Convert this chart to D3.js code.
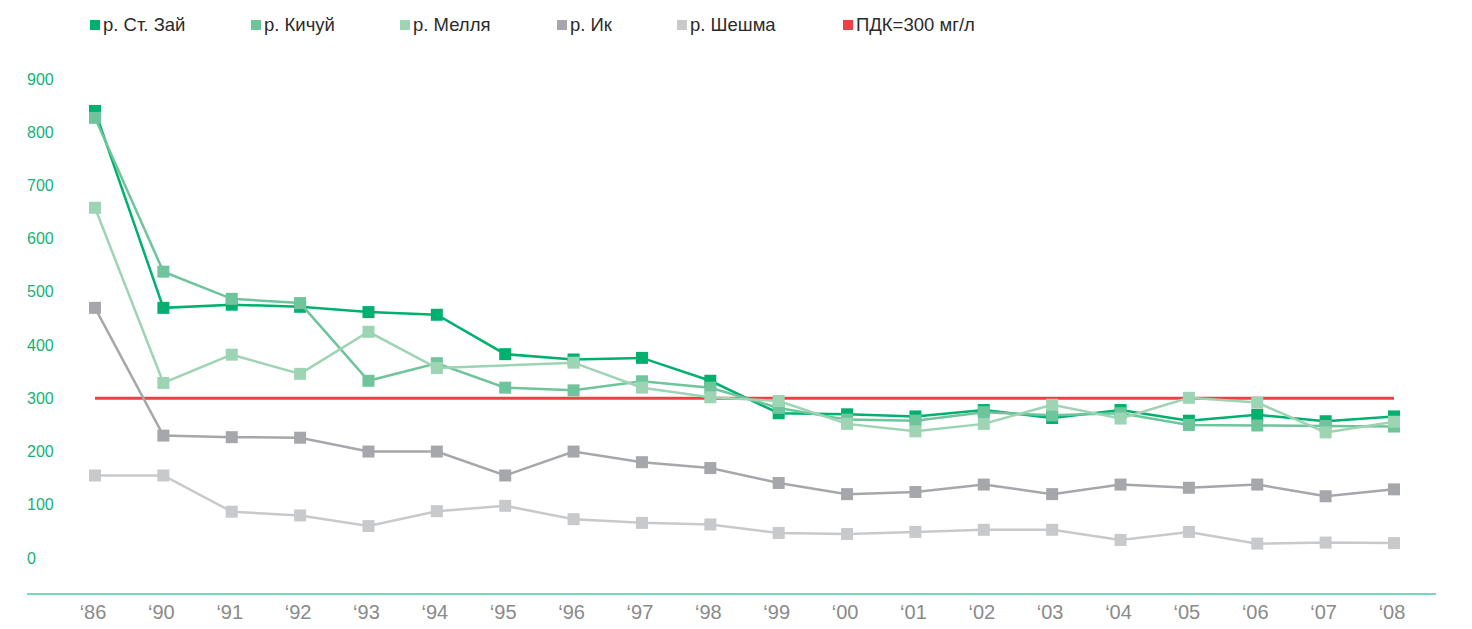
<!DOCTYPE html>
<html>
<head>
<meta charset="utf-8">
<script src="https://cdn.jsdelivr.net/npm/d3@7"></script>
<style>
  body { margin: 0; background: #fff; }
  svg { display: block; font-family: "Liberation Sans", Arial, sans-serif; }
</style>
</head>
<body>
<script>
// years on the x axis
var years = ["‘86", "‘90", "‘91", "‘92", "‘93", "‘94", "‘95", "‘96", "‘97", "‘98",
             "‘99", "‘00", "‘01", "‘02", "‘03", "‘04", "‘05", "‘06", "‘07", "‘08"];

var yTicks = [0, 100, 200, 300, 400, 500, 600, 700, 800, 900];

// mg/l per river
var stZai   = [840, 470, 476, 472, 462, 457, 383, 373, 376, 333, 272, 270, 266, 278, 263, 278, 258, 269, 257, 266];
var kichuy  = [827, 538, 487, 479, 333, 366, 320, 315, 332, 320, 282, 260, 258, 274, 268, 272, 250, 249, 248, 247];
var mellya  = [658, 329, 382, 346, 425, 357, null, 367, 320, 302, 295, 252, 238, 252, 288, 262, 301, 292, 236, 256];
var ik      = [470, 230, 227, 226, 200, 200, 155, 200, 180, 169, 141, 120, 124, 138, 120, 138, 132, 138, 116, 129];
var sheshma = [155, 155, 87, 80, 60, 88, 98, 73, 66, 63, 47, 45, 49, 53, 53, 34, 49, 27, 29, 28];

var limit = 300;

var seriesNames  = ["р. Ст. Зай", "р. Кичуй", "р. Мелля", "р. Ик", "р. Шешма"];
var seriesValues = [stZai, kichuy, mellya, ik, sheshma];
var seriesColors = ["#00b06f", "#6ec49b", "#9dd4b4", "#a6a7ab", "#c8c9cb"];
var limitName = "ПДК=300 мг/л";
var limitColor = "#ec4045";

var W = 1472, H = 629;

var svg = d3.select("body").append("svg")
    .attr("width", W)
    .attr("height", H);

var x = d3.scalePoint()
    .domain(years)
    .range([95, 1394]);

var y = d3.scaleLinear()
    .domain([0, 900])
    .range([558, 79]);

// y labels (no axis line)
svg.append("g").selectAll("text")
    .data(yTicks)
    .enter().append("text")
    .attr("x", 27)
    .attr("y", function(d) { return y(d); })
    .attr("dy", "0.35em")
    .attr("font-size", "16px")
    .attr("fill", "#14b277")
    .text(function(d) { return d; });

// bottom axis line
svg.append("line")
    .attr("x1", 27).attr("x2", 1436)
    .attr("y1", 594).attr("y2", 594)
    .attr("stroke", "#45cf9f")
    .attr("stroke-width", 1.5);

// x labels
svg.append("g").selectAll("text")
    .data(years)
    .enter().append("text")
    .attr("x", function(d) { return x(d) - 2; })
    .attr("y", 619)
    .attr("text-anchor", "middle")
    .attr("font-size", "20px")
    .attr("fill", "#8a8a8a")
    .text(function(d) { return d; });

// limit line
svg.append("line")
    .attr("x1", x(years[0])).attr("x2", x(years[years.length - 1]))
    .attr("y1", y(limit)).attr("y2", y(limit))
    .attr("stroke", limitColor)
    .attr("stroke-width", 3);

var line = d3.line()
    .x(function(d) { return x(d.year); })
    .y(function(d) { return y(d.value); });

seriesValues.forEach(function(vals, i) {
    var pts = years.map(function(yr, j) { return { year: yr, value: vals[j] }; })
        .filter(function(d) { return d.value != null; });

    svg.append("path")
        .datum(pts)
        .attr("fill", "none")
        .attr("stroke", seriesColors[i])
        .attr("stroke-width", 2.5)
        .attr("d", line);

    svg.append("g").selectAll("rect")
        .data(pts)
        .enter().append("rect")
        .attr("x", function(d) { return x(d.year) - 6; })
        .attr("y", function(d) { return y(d.value) - 6; })
        .attr("width", 12)
        .attr("height", 12)
        .attr("fill", seriesColors[i]);
});

// legend
var legendX = [90, 251, 400, 557, 677, 843];
var legendNames = seriesNames.concat([limitName]);
var legendColors = seriesColors.concat([limitColor]);

var lg = svg.append("g").selectAll("g")
    .data(legendNames)
    .enter().append("g")
    .attr("transform", function(d, i) { return "translate(" + legendX[i] + ",25)"; });

lg.append("rect")
    .attr("x", 0).attr("y", -5)
    .attr("width", 10).attr("height", 10)
    .attr("fill", function(d, i) { return legendColors[i]; });

lg.append("text")
    .attr("x", 13)
    .attr("dy", "0.35em")
    .attr("font-size", "18.5px")
    .attr("fill", "#2b2b2b")
    .text(function(d) { return d; });
</script>
</body>
</html>
